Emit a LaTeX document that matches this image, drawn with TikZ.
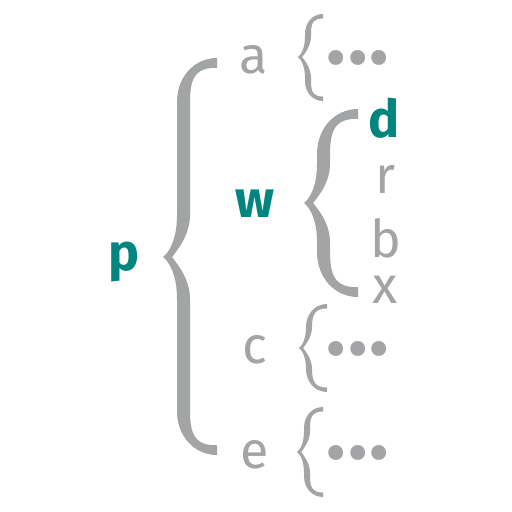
\documentclass[tikz,border=0pt]{standalone}
\usepackage{fontspec}
\setmainfont{Fira Sans}
\definecolor{treeteal}{HTML}{00857F}
\definecolor{treegray}{HTML}{A3A4A6}
% filled curly brace: tip x, arm x, end x, top y, tip y, bottom y, thickness
\newcommand\curly[7]{%
  \pgfmathsetmacro\bracedx{#3-#2}%
  \pgfmathsetmacro\bracetx{#2-#1}%
  \fill[treegray] (#3,#4) .. controls ({#2+0.45*\bracedx},#4) and (#2,{#4+0.45*\bracedx}) .. (#2,{#4+1.1*\bracedx})
    -- (#2,{#5-3*\bracetx}) .. controls (#2,{#5-1.2*\bracetx}) and ({#1+0.4*\bracetx},{#5-0.3*\bracetx}) .. (#1,#5)
    .. controls ({#1+0.4*\bracetx},{#5+0.3*\bracetx}) and (#2,{#5+1.2*\bracetx}) .. (#2,{#5+3*\bracetx})
    -- (#2,{#6-1.1*\bracedx}) .. controls (#2,{#6-0.45*\bracedx}) and ({#2+0.45*\bracedx},#6) .. (#3,#6)
    -- (#3,{#6-0.75*#7}) .. controls ({#2+#7+0.3*(\bracedx-#7)},{#6-0.75*#7}) and ({#2+#7},{#6-0.4*\bracedx}) .. ({#2+#7},{#6-1.1*\bracedx})
    -- ({#2+#7},{#5+3*\bracetx}) .. controls ({#2+#7},{#5+1.5*\bracetx}) and ({#1+#7},{#5+0.4*\bracetx}) .. ({#1+0.7*#7},#5)
    .. controls ({#1+#7},{#5-0.4*\bracetx}) and ({#2+#7},{#5-1.5*\bracetx}) .. ({#2+#7},{#5-3*\bracetx})
    -- ({#2+#7},{#4+1.1*\bracedx}) .. controls ({#2+#7},{#4+0.4*\bracedx}) and ({#2+#7+0.3*(\bracedx-#7)},{#4+0.75*#7}) .. (#3,{#4+0.75*#7})
    -- cycle;}

\begin{document}
\begin{tikzpicture}[x=1pt,y=-1pt,
    leaf/.style={text=treegray, font=\fontsize{52}{52}\selectfont, anchor=base, inner sep=0pt},
    root/.style={text=treeteal, font=\fontsize{52}{52}\selectfont\bfseries, anchor=base, inner sep=0pt},
    more/.style={text=treegray, font=\fontsize{66}{66}\selectfont, inner sep=0pt}]
    \useasboundingbox (0,0) rectangle (512,512);

    \node[root] (p) at (124,270) {p};
    \node[root] (w) at (255,217) {w};
    \node[leaf] (a) at (254,73) {a};
    \node[leaf] (c) at (255,363) {c};
    \node[leaf] (e) at (255,468) {e};

    \node[root] (d) at (384,137) {d};
    \node[leaf] (r) at (386,193) {r};
    \node[leaf] (b) at (386,257) {b};
    \node[leaf] (x) at (385,303) {x};

    \node[more] (amore) at (358,66) {•••};
    \node[more] (cmore) at (358,357) {•••};
    \node[more] (emore) at (358,461) {•••};

    % braces
    \curly{163}{177}{217}{58}{257}{455}{13}
    \curly{304}{317}{358}{109}{203}{297}{13}
    \curly{298}{305}{323}{14}{57}{101}{6}
    \curly{299}{306}{327}{304}{348}{392}{6}
    \curly{297}{304}{323}{407}{452}{497}{6}
\end{tikzpicture}
\end{document}
